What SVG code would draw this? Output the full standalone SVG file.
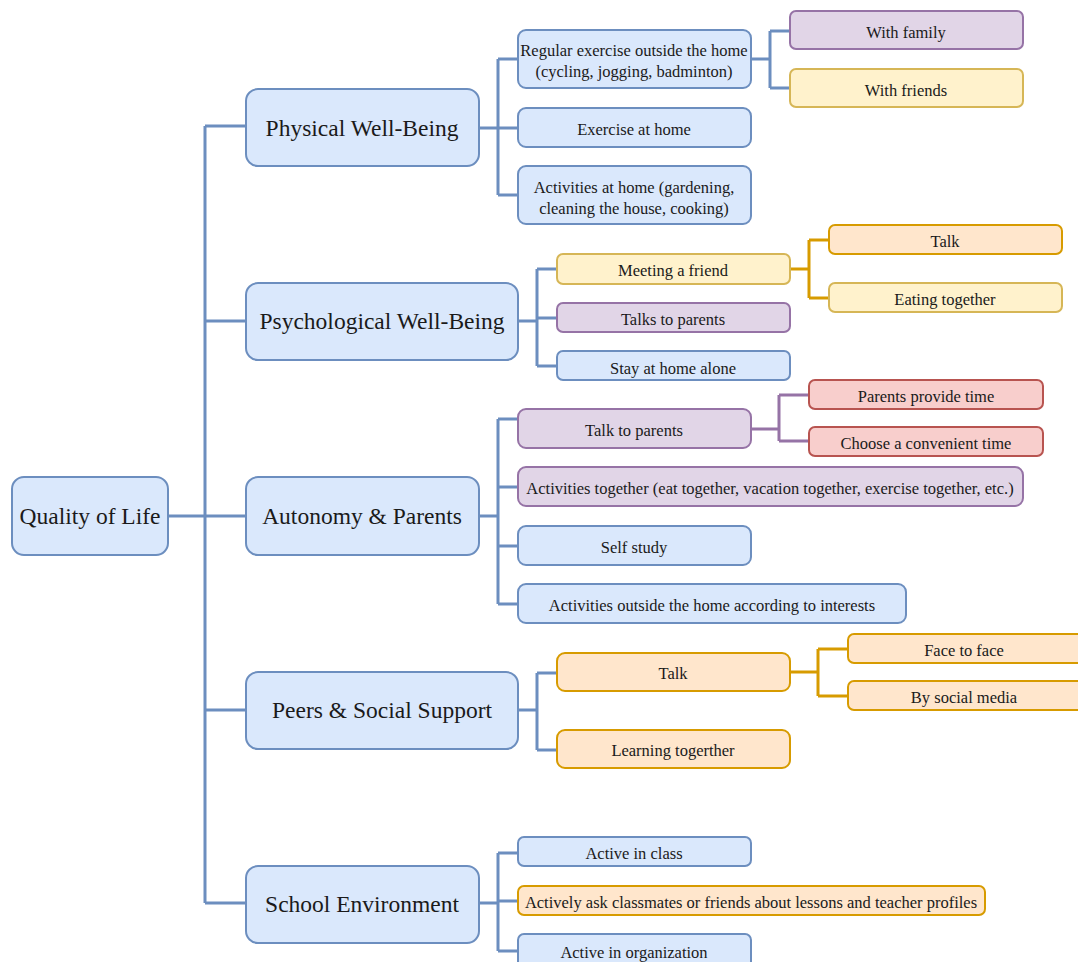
<svg xmlns="http://www.w3.org/2000/svg" width="1078" height="962" viewBox="0 0 1078 962">
<style>
rect{stroke-width:2}
.b{fill:#dae8fc;stroke:#6c8ebf}
.p{fill:#e1d5e7;stroke:#9673a6}
.y{fill:#fff2cc;stroke:#d6b656}
.o{fill:#ffe6cc;stroke:#d79b00}
.r{fill:#f8cecc;stroke:#b85450}
text{font-family:"Liberation Serif","DejaVu Serif",serif;fill:#1a1a1a;text-anchor:middle;dominant-baseline:central}
.L{font-size:23.5px}
.s{font-size:16.5px}
#connectors path{fill:none;stroke-width:3}
.cb{stroke:#6c8ebf}.co{stroke:#d79b00}.cp{stroke:#9673a6}
</style>
<rect width="1078" height="962" fill="#fff"/>
<g id="connectors">
<path class="cb" d="M168 516H246M205 126V903M205 126H246M205 321H246M205 710H246M205 903H246"/>
<path class="cb" d="M479 128H518M498 59V195M498 59H518M498 195H518"/>
<path class="cb" d="M751 59H770M770 31V88M770 31H790M770 88H790"/>
<path class="cb" d="M518 321H537M537 269V366M537 269H557M537 318H557M537 366H557"/>
<path class="co" d="M790 269H809M809 240V298M809 240H829M809 298H829"/>
<path class="cb" d="M479 516H498M498 419V604M498 419H518M498 487H518M498 546H518M498 604H518"/>
<path class="cp" d="M751 429H779M779 395V441M779 395H809M779 441H809"/>
<path class="cb" d="M518 710H537M537 673V750M537 673H557M537 750H557"/>
<path class="co" d="M790 672H818M818 649V696M818 649H848M818 696H848"/>
<path class="cb" d="M479 903H498M498 853V951M498 853H518M498 901H518M498 951H518"/>
</g>
<g id="n-qol"><rect class="b" x="12" y="477" width="156" height="78" rx="12"/><text class="L" x="90" y="516">Quality of Life</text></g>
<g id="n-physical"><rect class="b" x="246" y="89" width="233" height="77" rx="12"/><text class="L" x="362" y="128">Physical Well-Being</text></g>
<g id="n-psych"><rect class="b" x="246" y="283" width="272" height="77" rx="12"/><text class="L" x="382" y="321">Psychological Well-Being</text></g>
<g id="n-autonomy"><rect class="b" x="246" y="477" width="233" height="78" rx="12"/><text class="L" x="362" y="516">Autonomy &amp; Parents</text></g>
<g id="n-peers"><rect class="b" x="246" y="672" width="272" height="77" rx="12"/><text class="L" x="382" y="710">Peers &amp; Social Support</text></g>
<g id="n-school"><rect class="b" x="246" y="866" width="233" height="77" rx="12"/><text class="L" x="362" y="904">School Environment</text></g>

<g id="n-regular"><rect class="b" x="518" y="30" width="233" height="58" rx="8"/><text class="s" x="634" y="50">Regular exercise outside the home</text><text class="s" x="634" y="71">(cycling, jogging, badminton)</text></g>
<g id="n-exhome"><rect class="b" x="518" y="108" width="233" height="39" rx="8"/><text class="s" x="634" y="129">Exercise at home</text></g>
<g id="n-acthome"><rect class="b" x="518" y="166" width="233" height="58" rx="8"/><text class="s" x="634" y="187">Activities at home (gardening,</text><text class="s" x="634" y="208">cleaning the house, cooking)</text></g>
<g id="n-family"><rect class="p" x="790" y="11" width="233" height="38" rx="6"/><text class="s" x="906" y="32">With family</text></g>
<g id="n-friends"><rect class="y" x="790" y="69" width="233" height="38" rx="6"/><text class="s" x="906" y="90">With friends</text></g>

<g id="n-meeting"><rect class="y" x="557" y="254" width="233" height="30" rx="6"/><text class="s" x="673" y="270">Meeting a friend</text></g>
<g id="n-talksparents"><rect class="p" x="557" y="303" width="233" height="29" rx="6"/><text class="s" x="673" y="319">Talks to parents</text></g>
<g id="n-stayhome"><rect class="b" x="557" y="351" width="233" height="29" rx="6"/><text class="s" x="673" y="368">Stay at home alone</text></g>
<g id="n-talk1"><rect class="o" x="829" y="225" width="233" height="29" rx="6"/><text class="s" x="945" y="241">Talk</text></g>
<g id="n-eating"><rect class="y" x="829" y="283" width="233" height="29" rx="6"/><text class="s" x="945" y="299">Eating together</text></g>

<g id="n-talktoparents"><rect class="p" x="518" y="409" width="233" height="39" rx="8"/><text class="s" x="634" y="430">Talk to parents</text></g>
<g id="n-provide"><rect class="r" x="809" y="380" width="234" height="29" rx="6"/><text class="s" x="926" y="396">Parents provide time</text></g>
<g id="n-choose"><rect class="r" x="809" y="427" width="234" height="29" rx="6"/><text class="s" x="926" y="443">Choose a convenient time</text></g>
<g id="n-acttogether"><rect class="p" x="518" y="467" width="505" height="39" rx="8"/><text class="s" x="770" y="488">Activities together (eat together, vacation together, exercise together, etc.)</text></g>
<g id="n-selfstudy"><rect class="b" x="518" y="526" width="233" height="39" rx="8"/><text class="s" x="634" y="547">Self study</text></g>
<g id="n-actoutside"><rect class="b" x="518" y="584" width="388" height="39" rx="8"/><text class="s" x="712" y="605">Activities outside the home according to interests</text></g>

<g id="n-talk2"><rect class="o" x="557" y="653" width="233" height="38" rx="8"/><text class="s" x="673" y="673">Talk</text></g>
<g id="n-learning"><rect class="o" x="557" y="730" width="233" height="38" rx="8"/><text class="s" x="673" y="750">Learning togerther</text></g>
<g id="n-face"><rect class="o" x="848" y="634" width="250" height="29" rx="6"/><text class="s" x="964" y="650">Face to face</text></g>
<g id="n-social"><rect class="o" x="848" y="681" width="250" height="29" rx="6"/><text class="s" x="964" y="697">By social media</text></g>

<g id="n-activeclass"><rect class="b" x="518" y="837" width="233" height="29" rx="6"/><text class="s" x="634" y="853">Active in class</text></g>
<g id="n-activeask"><rect class="o" x="518" y="886" width="467" height="29" rx="6"/><text class="s" x="751" y="902">Actively ask classmates or friends about lessons and teacher profiles</text></g>
<g id="n-activeorg"><rect class="b" x="518" y="934" width="233" height="38" rx="6"/><text class="s" x="634" y="952">Active in organization</text></g>
</svg>
